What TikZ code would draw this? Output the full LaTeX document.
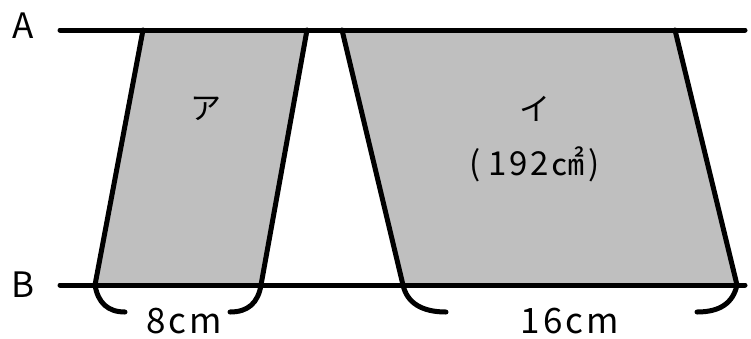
\documentclass[tikz,border=0pt]{standalone}
\usepackage{fontspec}
\setmainfont{Noto Sans CJK JP}
\newfontfamily\spacedfont[LetterSpace=9]{Noto Sans CJK JP}
\definecolor{boxgray}{RGB}{191,191,191}
\begin{document}
\begin{tikzpicture}[x=1pt,y=-1pt,
  edge/.style={line width=5pt,line cap=round,line join=round},
  lbl/.style={font=\spacedfont\fontsize{35}{38}\selectfont,inner sep=0pt},
  kana/.style={font=\fontsize{31}{34}\selectfont,inner sep=0pt}]
\useasboundingbox (0,0) rectangle (751,338);
% shapes
\coordinate (a1) at (143,30); \coordinate (a2) at (307,30);
\coordinate (a3) at (261,285); \coordinate (a4) at (95,285);
\coordinate (b1) at (342,30); \coordinate (b2) at (675,30);
\coordinate (b3) at (737,285); \coordinate (b4) at (403,285);
\fill[boxgray] (a1) -- (a2) -- (a3) -- (a4) -- cycle;
\fill[boxgray] (b1) -- (b2) -- (b3) -- (b4) -- cycle;
\draw[edge] (a1) -- (a4);
\draw[edge] (a2) -- (a3);
\draw[edge] (b1) -- (b4);
\draw[edge] (b2) -- (b3);
% parallel lines
\coordinate (A0) at (60,30); \coordinate (A1) at (745,30);
\coordinate (B0) at (60,285); \coordinate (B1) at (745,285);
\draw[edge] (A0) -- (A1);
\draw[edge] (B0) -- (B1);
% brackets
\coordinate (c1) at (125,312); \coordinate (c2) at (230,312);
\coordinate (c3) at (446,312); \coordinate (c4) at (697,312);
\draw[edge] (a4) .. controls (98,303) and (108,312) .. (c1);
\draw[edge] (a3) .. controls (258,303) and (248,312) .. (c2);
\draw[edge] (b4) .. controls (407,303) and (422,312) .. (c3);
\draw[edge] (b3) .. controls (733,303) and (720,312) .. (c4);
% labels
\node[lbl,anchor=base] (la) at (23,38) {A};
\node[lbl,anchor=base] (lb) at (23,297) {B};
\node[lbl,anchor=base] (l8) at (184,333) {8cm};
\node[lbl,anchor=base] (l16) at (570,333) {16cm};
\node[kana] (ka) at (206,109) {ア};
\node[kana] (ki) at (535,109) {イ};
\node[lbl,anchor=base,font=\spacedfont\fontsize{33}{36}\selectfont] (area) at (535,175) {(\hspace{7pt}192㎠\hspace{4pt})};
\end{tikzpicture}
\end{document}
